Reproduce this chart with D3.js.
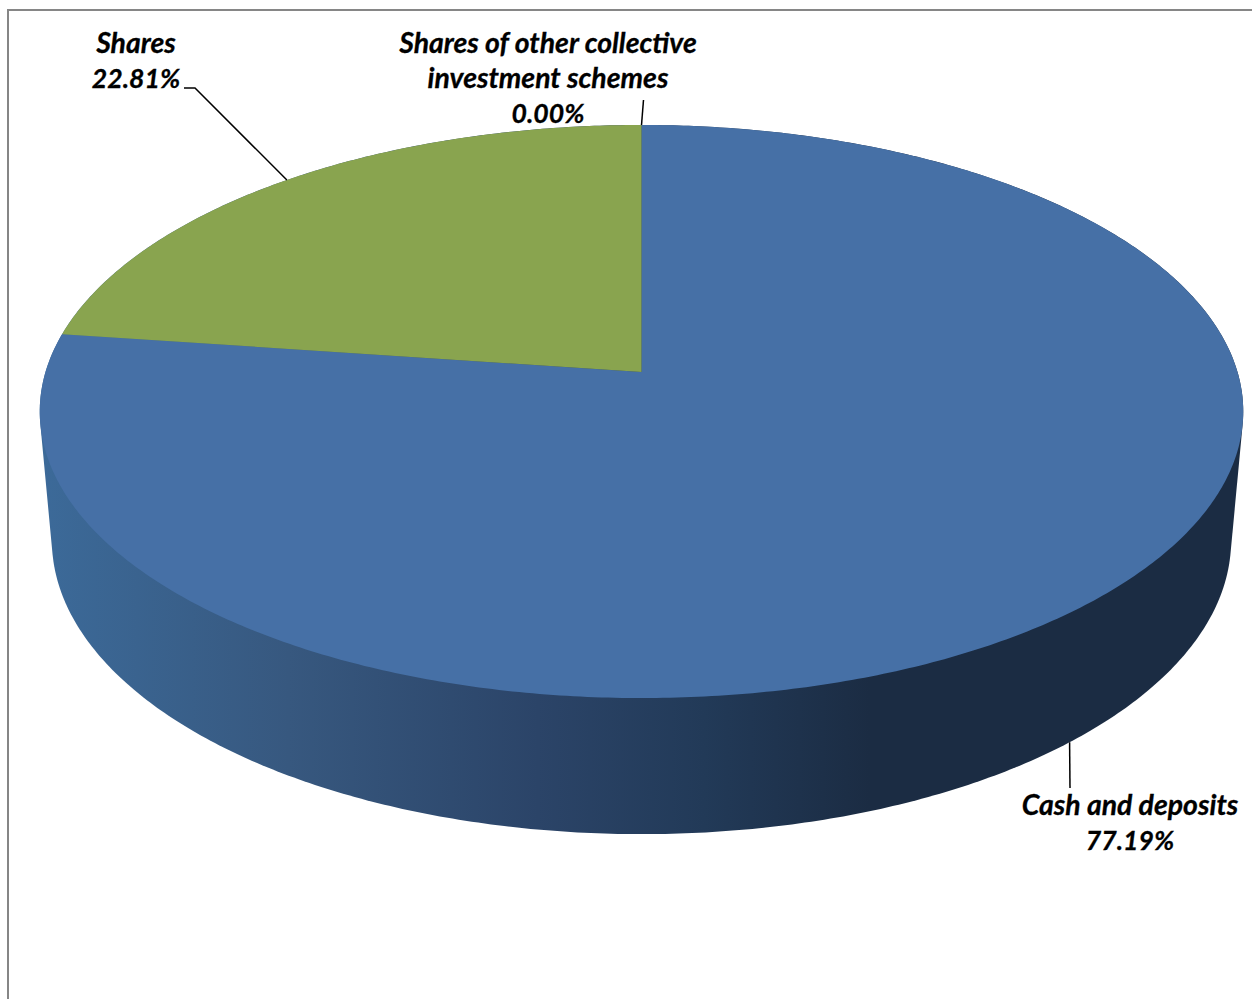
<!DOCTYPE html>
<html><head><meta charset="utf-8">
<style>html,body{margin:0;padding:0;background:#fff;overflow:hidden}svg{display:block}
text{font-family:Lato,Carlito,sans-serif;font-weight:700;font-style:italic;fill:#000;stroke:#000;stroke-width:0.3;text-anchor:middle}</style>
</head><body>
<script src="https://cdn.jsdelivr.net/npm/d3@7"></script>
<script>
const categories = ["Cash and deposits", "Shares", "Shares of other collective investment schemes"];
const values = [77.19, 22.81, 0.00];
const labelLines = [["Cash and deposits"], ["Shares"], ["Shares of other collective", "investment schemes"]];
const colors = ["#4670a6", "#89a44f", "#b0413e"];
const sideStops = [[0,"#3c6a99"],[0.3,"#37587f"],[0.6,"#2b4468"],[0.8,"#223a58"],[1,"#1b2c43"]];

const W = 1252, H = 999;
const svg = d3.select("body").append("svg").attr("width", W).attr("height", H);

// perspective projection of the unit circle
const cx = 641.5, persp = 0.1379;
const topRim = {c:596, a:372, b:-229.8};
const lowRim = {c:584, a:499.5, b:-219.6};
const project = (rim, ang, r=1) => {
  const u = r*Math.sin(ang), v = r*Math.cos(ang), w = 1 + persp*v;
  return [cx + rim.c*u/w, (rim.a + rim.b*v)/w];
};
const arcPts = (rim, a0, a1) => {
  const n = Math.max(1, Math.ceil((a1-a0)/0.01));
  return d3.range(n+1).map(i => project(rim, a0 + (a1-a0)*i/n));
};
const line = d3.line();

const pie = d3.pie().sort(null).value(d => d);
const slices = pie(values);

// frame
svg.append("rect").attr("x",8).attr("y",10).attr("width",W+20).attr("height",H+20)
  .attr("fill","none").attr("stroke","#868686").attr("stroke-width",2);

// side wall
const grad = svg.append("defs").append("linearGradient").attr("id","side")
  .attr("gradientUnits","userSpaceOnUse").attr("x1",40).attr("x2",870).attr("y1",0).attr("y2",0);
sideStops.forEach(s => grad.append("stop").attr("offset",s[0]).attr("stop-color",s[1]));
const full = [...arcPts(topRim,0,2*Math.PI), ...arcPts(lowRim,0,2*Math.PI)];
svg.append("path").attr("d", line(d3.polygonHull(full))+"Z").attr("fill","url(#side)");

// top face
const apex = project(topRim, 0, 0);
svg.selectAll("path.slice").data(slices.filter(d => d.value > 0)).join("path")
  .attr("class","slice")
  .attr("d", d => line([apex, ...arcPts(topRim, d.startAngle, d.endAngle)])+"Z")
  .attr("fill", (d) => colors[d.index]);

// leaders & labels
const mid = d => (d.startAngle + d.endAngle)/2;
const pct = d3.format(".2f");
const layouts = [
  {rim:lowRim, via:[], end:[1070,788], x:1130, y:[815,850]},
  {rim:topRim, via:[[195,88]], end:[184,88], x:136, y:[53,88]},
  {rim:topRim, via:[], end:[643.5,100], x:548, y:[53,88,123]}
];
slices.forEach((d,i) => {
  const L = layouts[i], p = project(L.rim, i===2 ? 2*Math.PI : mid(d));
  svg.append("path").attr("d", line([p, ...L.via, L.end])).attr("fill","none")
    .attr("stroke","#000").attr("stroke-width",1.5);
  const names = labelLines[i];
  const lines = [...names, pct(d.value)+"%"];
  svg.append("text").selectAll("tspan").data(lines).join("tspan")
    .attr("x",L.x).attr("y",(t,j)=>L.y[j])
    .attr("font-size",(t,j)=> j < names.length ? 28.4 : 26.6).text(t=>t);
});
</script></body></html>
